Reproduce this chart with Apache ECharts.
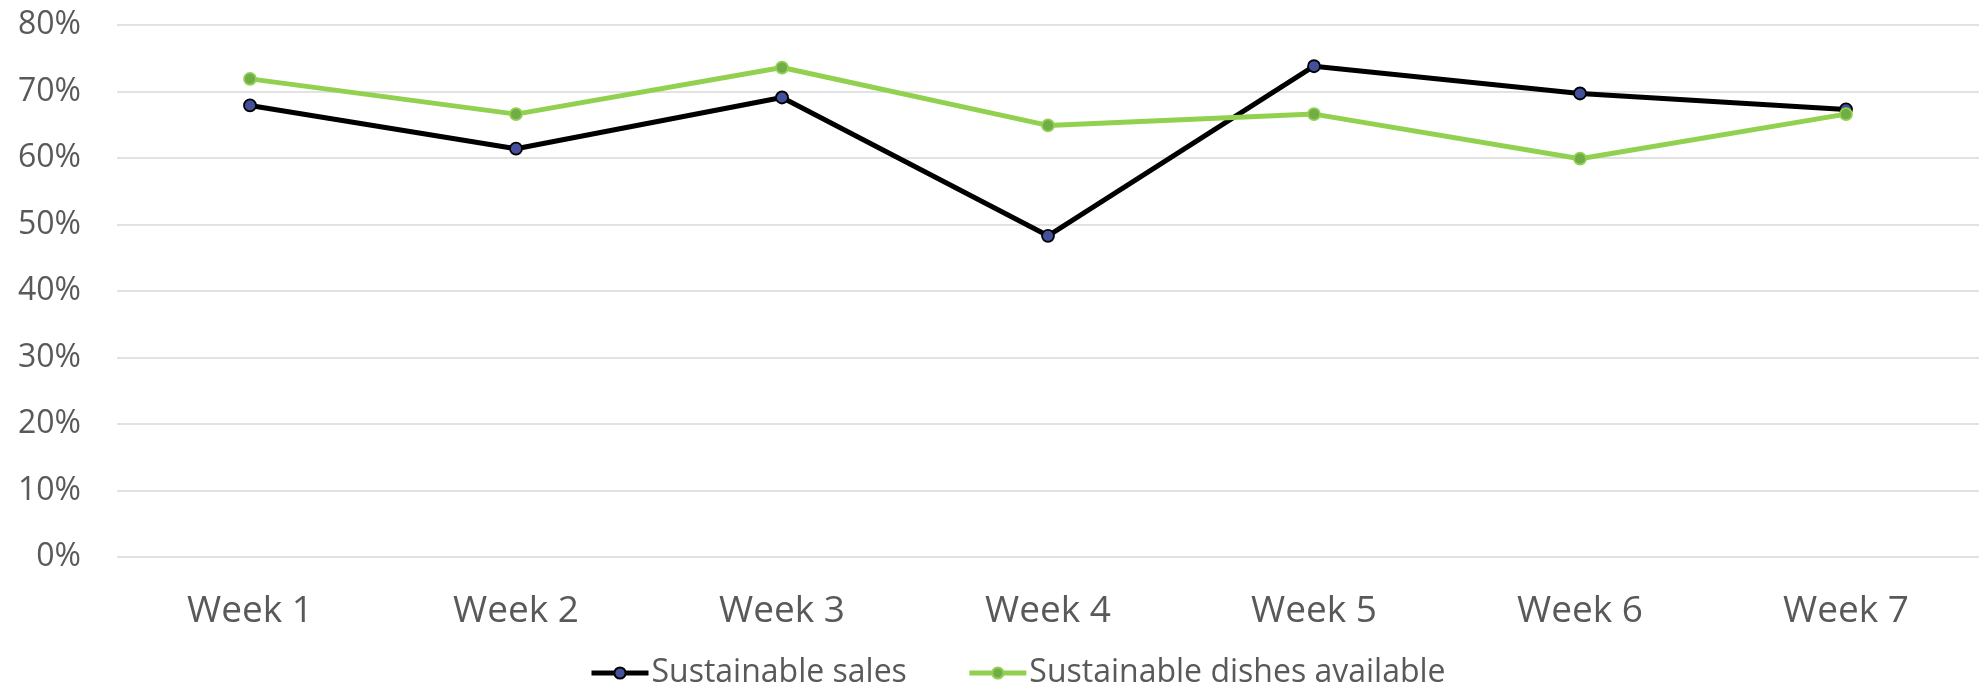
<!DOCTYPE html>
<html>
<head>
<meta charset="utf-8">
<script src="https://cdn.jsdelivr.net/npm/echarts@6/dist/echarts.min.js"></script>
<style>
  html, body { margin: 0; padding: 0; background: #ffffff; }
  #chart { width: 1979px; height: 698px; }
</style>
</head>
<body>
<div id="chart"></div>
<script>
// Weekly share of sustainable dishes: sold vs. offered on the menu
const weeks = ['Week 1', 'Week 2', 'Week 3', 'Week 4', 'Week 5', 'Week 6', 'Week 7'];
const sustainableSales = [67.9, 61.4, 69.1, 48.3, 73.8, 69.7, 67.3];
const sustainableDishes = [71.9, 66.6, 73.6, 64.9, 66.6, 59.9, 66.6];
const yTicks = { min: 0, max: 80, step: 10 };

const FONT = '"Open Sans", "Liberation Sans", sans-serif';
const TEXT = '#595959';

const chart = echarts.init(document.getElementById('chart'), null, { renderer: 'canvas' });

chart.setOption({
  animation: false,
  backgroundColor: '#ffffff',
  grid: { left: 117, right: 0, top: 25, bottom: 141, containLabel: false },
  legend: {
    bottom: 4,
    left: 584,
    itemWidth: 57,
    itemHeight: 14,
    itemGap: 60,
    textStyle: { fontFamily: FONT, fontSize: 32, color: TEXT, padding: [0, 0, 0, -2] },
    data: [
      { name: 'Sustainable sales', lineStyle: { width: 5 } },
      { name: 'Sustainable dishes available', lineStyle: { width: 5 } }
    ]
  },
  xAxis: {
    type: 'category',
    data: weeks,
    boundaryGap: true,
    axisLine: { show: false },
    axisTick: { show: false },
    axisLabel: { fontFamily: FONT, fontSize: 37, color: TEXT, margin: 36 }
  },
  yAxis: {
    type: 'value',
    min: yTicks.min,
    max: yTicks.max,
    interval: yTicks.step,
    axisLine: { show: false },
    axisTick: { show: false },
    axisLabel: {
      fontFamily: FONT, fontSize: 32, color: TEXT, margin: 36,
      formatter: v => v + '%'
    },
    splitLine: { lineStyle: { color: '#d9d9d9', width: 1.5 } }
  },
  series: [
    {
      name: 'Sustainable sales',
      type: 'line',
      data: sustainableSales,
      symbol: 'circle',
      symbolSize: 12,
      lineStyle: { color: '#000000', width: 5 },
      itemStyle: { color: '#44509a', borderColor: '#000000', borderWidth: 1.8 },
      z: 2
    },
    {
      name: 'Sustainable dishes available',
      type: 'line',
      data: sustainableDishes,
      symbol: 'circle',
      symbolSize: 12,
      lineStyle: { color: '#92d050', width: 5 },
      itemStyle: { color: '#70ad47', borderColor: '#92d050', borderWidth: 1.8 },
      z: 3
    }
  ]
});
</script>
</body>
</html>
